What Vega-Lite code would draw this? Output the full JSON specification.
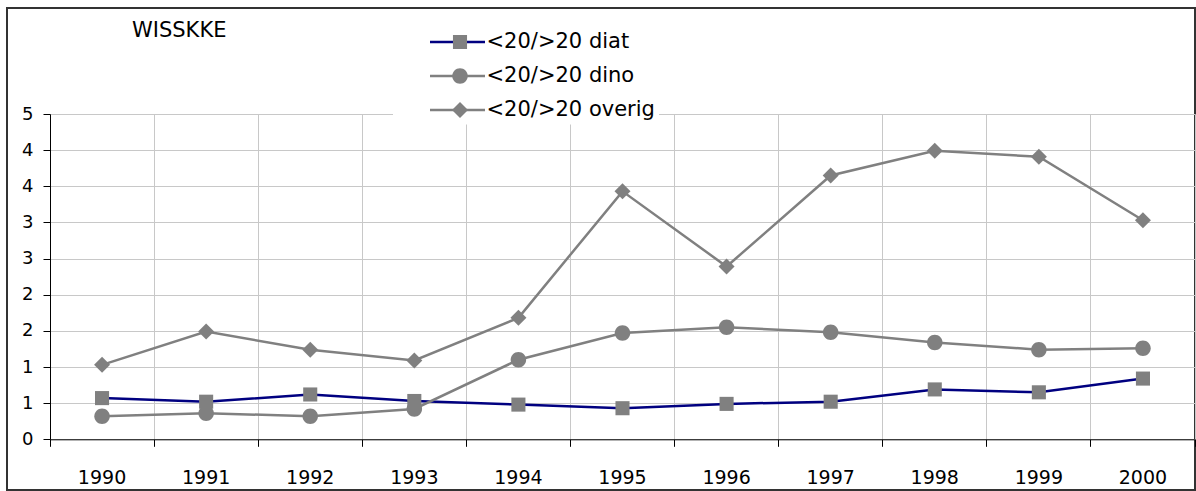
{
  "$schema": "https://vega.github.io/schema/vega-lite/v6.json",
  "width": 1188,
  "height": 482,
  "autosize": {"type": "none"},
  "padding": {"left": 7, "top": 8, "right": 1, "bottom": 1},
  "background": "white",
  "config": {
    "view": {"stroke": "#333333", "strokeWidth": 2},
    "font": "DejaVu Sans"
  },
  "title": {
    "text": "WISSKKE",
    "anchor": "start",
    "frame": "group",
    "orient": "top",
    "dx": 125,
    "dy": 33,
    "offset": 0,
    "baseline": "top",
    "fontSize": 21,
    "fontWeight": "normal",
    "font": "DejaVu Sans",
    "color": "#000000"
  },
  "data": {
    "values": [
      {"year": 1990, "series": "<20/>20 diat", "value": 0.57},
      {"year": 1991, "series": "<20/>20 diat", "value": 0.52},
      {"year": 1992, "series": "<20/>20 diat", "value": 0.62},
      {"year": 1993, "series": "<20/>20 diat", "value": 0.53},
      {"year": 1994, "series": "<20/>20 diat", "value": 0.48},
      {"year": 1995, "series": "<20/>20 diat", "value": 0.43},
      {"year": 1996, "series": "<20/>20 diat", "value": 0.49},
      {"year": 1997, "series": "<20/>20 diat", "value": 0.52},
      {"year": 1998, "series": "<20/>20 diat", "value": 0.69},
      {"year": 1999, "series": "<20/>20 diat", "value": 0.65},
      {"year": 2000, "series": "<20/>20 diat", "value": 0.84},
      {"year": 1990, "series": "<20/>20 dino", "value": 0.32},
      {"year": 1991, "series": "<20/>20 dino", "value": 0.36},
      {"year": 1992, "series": "<20/>20 dino", "value": 0.32},
      {"year": 1993, "series": "<20/>20 dino", "value": 0.42},
      {"year": 1994, "series": "<20/>20 dino", "value": 1.1},
      {"year": 1995, "series": "<20/>20 dino", "value": 1.47},
      {"year": 1996, "series": "<20/>20 dino", "value": 1.55},
      {"year": 1997, "series": "<20/>20 dino", "value": 1.48},
      {"year": 1998, "series": "<20/>20 dino", "value": 1.34},
      {"year": 1999, "series": "<20/>20 dino", "value": 1.24},
      {"year": 2000, "series": "<20/>20 dino", "value": 1.26},
      {"year": 1990, "series": "<20/>20 overig", "value": 1.03},
      {"year": 1991, "series": "<20/>20 overig", "value": 1.49},
      {"year": 1992, "series": "<20/>20 overig", "value": 1.24},
      {"year": 1993, "series": "<20/>20 overig", "value": 1.09},
      {"year": 1994, "series": "<20/>20 overig", "value": 1.68},
      {"year": 1995, "series": "<20/>20 overig", "value": 3.43},
      {"year": 1996, "series": "<20/>20 overig", "value": 2.39},
      {"year": 1997, "series": "<20/>20 overig", "value": 3.65},
      {"year": 1998, "series": "<20/>20 overig", "value": 3.99},
      {"year": 1999, "series": "<20/>20 overig", "value": 3.91},
      {"year": 2000, "series": "<20/>20 overig", "value": 3.03}
    ]
  },
  "encoding": {
    "x": {
      "field": "year",
      "type": "ordinal",
      "scale": {"type": "band", "range": [43, 1188], "paddingInner": 0, "paddingOuter": 0},
      "axis": {
        "title": null,
        "orient": "top",
        "offset": -431.3,
        "bandPosition": 1,
        "tickExtra": true,
        "grid": true,
        "gridColor": "#c8c8c8",
        "gridWidth": 1,
        "tickSize": -7,
        "tickColor": "#000000",
        "domainColor": "#000000",
        "labelAngle": 0,
        "labelFontSize": 19,
        "labelFont": "DejaVu Sans",
        "labelColor": "#000000",
        "labelBaseline": "middle",
        "labelPadding": -30.7
      }
    },
    "y": {
      "field": "value",
      "type": "quantitative",
      "scale": {"domain": [0, 4.5], "range": [431.3, 106], "nice": false},
      "axis": {
        "title": null,
        "values": [0, 0.5, 1, 1.5, 2, 2.5, 3, 3.5, 4, 4.5],
        "labelExpr": "round(datum.value)",
        "grid": true,
        "gridColor": "#c8c8c8",
        "gridWidth": 1,
        "tickSize": 7,
        "tickColor": "#000000",
        "domainColor": "#000000",
        "labelFontSize": 18,
        "labelFont": "DejaVu Sans",
        "labelColor": "#000000",
        "labelPadding": 10,
        "offset": -43
      }
    }
  },
  "layer": [
    {
      "mark": {"type": "line", "strokeWidth": 2.5},
      "encoding": {
        "stroke": {
          "field": "series",
          "type": "nominal",
          "scale": {
            "domain": ["<20/>20 diat", "<20/>20 dino", "<20/>20 overig"],
            "range": ["#000080", "#808080", "#808080"]
          },
          "legend": {
            "title": null,
            "orient": "none",
            "legendX": 386,
            "legendY": 19.5,
            "symbolType": "stroke",
            "symbolSize": 3025,
            "symbolStrokeWidth": 2.5,
            "symbolOffset": 31.5,
            "clipHeight": 21,
            "labelFontSize": 21,
            "labelFont": "DejaVu Sans",
            "labelColor": "#000000",
            "labelOffset": 0,
            "labelLimit": 400,
            "rowPadding": 12,
            "padding": 4,
            "fillColor": "white"
          }
        }
      }
    },
    {
      "mark": {"type": "point", "filled": true, "size": 256, "opacity": 1, "color": "#808080"},
      "encoding": {
        "shape": {
          "field": "series",
          "type": "nominal",
          "scale": {
            "range": [
              "M-0.88,-0.88H0.88V0.88H-0.88Z",
              "M-0.97,0A0.97,0.97,0,1,0,0.97,0A0.97,0.97,0,1,0,-0.97,0Z",
              "M0,-1L1,0L0,1L-1,0Z"
            ]
          },
          "legend": {
            "title": null,
            "orient": "none",
            "legendX": 438.5,
            "legendY": 19.5,
            "symbolSize": 256,
            "symbolFillColor": "#808080",
            "symbolStrokeWidth": 0,
            "clipHeight": 21,
            "labelExpr": "''",
            "labelFontSize": 21,
            "labelOffset": 2,
            "rowPadding": 12,
            "padding": 4
          }
        }
      }
    }
  ]
}
